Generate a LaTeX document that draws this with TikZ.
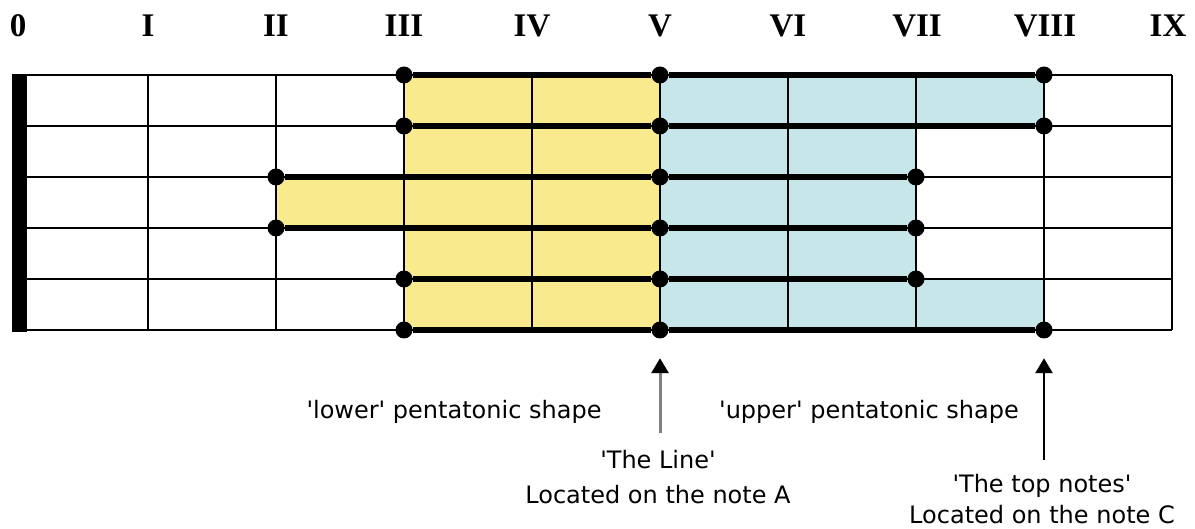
\documentclass[tikz,border=0pt]{standalone}
\usepackage{fontspec}
\setmainfont{Liberation Serif}
\newfontfamily\lblfont[Ligatures=TeXOff]{DejaVu Sans}
\usetikzlibrary{arrows.meta}
\definecolor{lowfill}{HTML}{FAEA8E}
\definecolor{upfill}{HTML}{C6E6EA}
\definecolor{arrgray}{HTML}{808080}
\begin{document}
\begin{tikzpicture}[x=1pt,y=-1pt,
  gridline/.style={line width=1.8pt,black},
  thickstring/.style={line width=5.5pt,black},
  note/.style={circle,fill=black,inner sep=0pt,minimum size=17pt},
  fretnum/.style={font=\bfseries\fontsize{33}{33}\selectfont,inner sep=0pt,anchor=base},
  lbl/.style={font=\lblfont\fontsize{24}{30}\selectfont,inner sep=0pt,anchor=base},
  grayarrow/.style={line width=3pt,arrgray,-{Triangle[width=17pt,length=15pt,color=black]}},
  blackarrow/.style={line width=2.5pt,black,-{Triangle[width=17pt,length=15pt]}},
]
\useasboundingbox (0,0) rectangle (1195,529);
\fill[white] (0,0) rectangle (1195,529);

% coloured shapes
\fill[lowfill] (404,75) -- (660,75) -- (660,330) -- (404,330) -- (404,228) -- (276,228) -- (276,177) -- (404,177) -- cycle;
\fill[upfill] (660,75) -- (1044,75) -- (1044,126) -- (916,126) -- (916,279) -- (1044,279) -- (1044,330) -- (660,330) -- cycle;

% grid
\foreach \y in {75,126,177,228,279,330} \draw[gridline] (27,\y) -- (1172,\y);
\foreach \x in {148,276,404,532,660,788,916,1044,1172} \draw[gridline] (\x,75) -- (\x,330);
% nut
\fill[black] (12,74) rectangle (27,332);

% fret numbers
\node[fretnum] (n0) at (18,37) {0};
\node[fretnum] (n1) at (148,37) {I};
\node[fretnum] (n2) at (276,37) {II};
\node[fretnum] (n3) at (404,37) {III};
\node[fretnum] (n4) at (532,37) {IV};
\node[fretnum] (n5) at (660,37) {V};
\node[fretnum] (n6) at (788,37) {VI};
\node[fretnum] (n7) at (917,37) {VII};
\node[fretnum] (n8) at (1045,37) {VIII};
\node[fretnum] (n9) at (1168,37) {IX};

% notes
\node[note] (s1a) at (404,75) {};
\node[note] (s1b) at (660,75) {};
\node[note] (s1c) at (1044,75) {};
\node[note] (s2a) at (404,126) {};
\node[note] (s2b) at (660,126) {};
\node[note] (s2c) at (1044,126) {};
\node[note] (s3a) at (276,177) {};
\node[note] (s3b) at (660,177) {};
\node[note] (s3c) at (916,177) {};
\node[note] (s4a) at (276,228) {};
\node[note] (s4b) at (660,228) {};
\node[note] (s4c) at (916,228) {};
\node[note] (s5a) at (404,279) {};
\node[note] (s5b) at (660,279) {};
\node[note] (s5c) at (916,279) {};
\node[note] (s6a) at (404,330) {};
\node[note] (s6b) at (660,330) {};
\node[note] (s6c) at (1044,330) {};

\foreach \s in {1,...,6} \draw[thickstring] (s\s a) -- (s\s b) -- (s\s c);

% labels
\node[lbl] (lower) at (454,418) {'lower' pentatonic shape};
\node[lbl] (upper) at (869,418) {'upper' pentatonic shape};
\node[lbl] (lineA) at (658,468) {'The Line'};
\node[lbl] (lineB) at (658,503) {Located on the note A};
\node[lbl] (topA) at (1042,493) {'The top notes'};
\node[lbl] (topB) at (1042,523) {Located on the note C};

% arrows
\coordinate (arrA) at (660,433);
\coordinate (arrB) at (1044,460);
\draw[grayarrow,shorten >=19.5pt] (arrA) -- (s6b);
\draw[blackarrow,shorten >=19.5pt] (arrB) -- (s6c);
\end{tikzpicture}
\end{document}
